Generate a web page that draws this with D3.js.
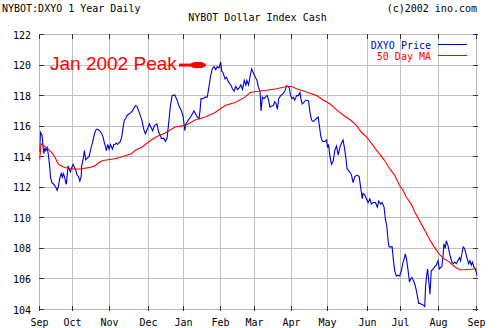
<!DOCTYPE html>
<html><head><meta charset="utf-8">
<script src="https://cdn.jsdelivr.net/npm/d3@7"></script>
<style>html,body{margin:0;padding:0;background:#fff;overflow:hidden}</style>
</head><body><svg id="c" width="501" height="328"></svg>
<script>
// ---- data ----
const monthLabels = ["Sep","Oct","Nov","Dec","Jan","Feb","Mar","Apr","May","Jun","Jul","Aug","Sep"];
const monthTicks = [0, 19.6, 41.6, 64.8, 85.7, 107.7, 127.9, 149.9, 171.3, 195.1, 214.8, 237.4, 260];
const yTicks = [104,106,108,110,112,114,116,118,120,122];
const price = [
[0,114.3],[0.6,115.6],[1.5,115.4],[2.2,114.6],[2.6,114.2],[3.2,114.6],[3.8,114.4],[4.6,114.6],[5.3,114.1],
[6.1,113.3],[6.5,112.7],[7.3,112.3],[8.5,112.2],[9.7,112.0],[10.5,111.8],[11.3,112.1],[12.1,112.6],[12.9,112.9],
[13.7,112.6],[14.1,112.9],[14.9,112.7],[15.6,112.3],[16,112.2],[16.4,112.7],[17,113.4],[17.6,113.2],[18.4,113.0],
[19.2,113.3],[20,113.5],[20.8,113.3],[21.6,113.1],[22.4,112.8],[23.2,112.7],[24,112.4],[24.8,112.7],[25.1,113.4],
[25.9,113.8],[26.7,114.4],[27.5,113.8],[28.3,113.9],[29.5,114.0],[30.7,114.6],[31.5,114.9],[32.3,115.3],[33,115.6],
[33.8,115.8],[34.7,115.8],[35.8,115.7],[37,115.5],[37.8,115.3],[38.6,114.9],[39.4,114.6],[39.8,114.4],[40.6,114.8],
[41.4,114.5],[42.2,114.8],[43.4,114.5],[44.2,114.8],[44.9,114.8],[45.7,114.9],[46.5,114.8],[47.3,114.9],[48.1,115.0],
[48.9,115.3],[49.7,115.9],[50.5,116.4],[51.3,116.5],[52.1,116.7],[53.3,116.8],[54.5,116.9],[55.3,117.0],[56.3,117.2],
[57.2,117.35],[58,117.3],[59.3,116.9],[60.9,116.4],[62,115.8],[63,115.5],[64.5,115.9],[65.3,116.15],[66.5,115.9],
[67.3,115.7],[68.5,116.05],[69.9,116.15],[70.9,115.6],[71.9,115.4],[72.5,115.2],[73.9,115.2],[74.9,115.0],[75.9,115.2],
[76.9,116.25],[77.9,117.35],[78.9,118.0],[80.5,118.05],[81.9,117.7],[82.9,117.35],[84.5,117.0],[85.5,116.6],[86.5,115.7],
[86.9,116.1],[88.5,116.4],[89.9,116.6],[90.9,116.8],[91.9,117.0],[92.9,116.8],[93.9,116.6],[94.9,116.5],[95.5,117.0],
[96.1,117.8],[97.3,117.8],[98.5,117.9],[99.8,117.9],[100.8,118.55],[101.8,119.3],[102.8,119.75],[103.8,119.9],
[104.8,119.7],[105.8,119.9],[106.8,119.8],[107.8,120.2],[108.4,119.6],[109.2,119.5],[110.4,119.1],[111.2,119.2],
[112.4,118.9],[113.8,118.7],[114.8,118.45],[115.8,118.3],[116.8,118.6],[117.8,118.4],[118.8,118.5],[119.8,118.7],
[120.8,118.4],[121.8,119.0],[122.8,118.7],[123.4,119.0],[124.4,118.7],[125.2,119.2],[126.2,119.75],[127.2,119.5],
[128.4,119.2],[129.4,119.0],[130.2,118.55],[131.2,118.3],[131.8,117.0],[132.6,117.9],[133.6,117.8],[134.8,117.95],
[135.5,118.0],[136.3,117.7],[137.1,117.25],[137.9,117.3],[139.1,117.35],[139.9,117.6],[140.7,117.5],[141.5,117.1],
[142.3,117.8],[143.5,118.0],[144.6,118.1],[146,118.3],[147,118.65],[148,118.6],[148.6,118.5],[149.4,118.0],
[150.2,117.8],[151,117.9],[151.8,117.7],[153,118.0],[154,118.0],[155,118.2],[155.5,117.8],[156.3,117.45],
[157.3,117.55],[158.3,117.7],[159.3,117.7],[160.1,117.65],[160.9,116.9],[161.9,116.4],[162.8,116.3],[163.8,116.4],
[164.8,116.5],[165.8,116.6],[166.8,115.8],[167.4,115.3],[168.4,115.0],[169.8,115.0],[170.8,115.1],[171.4,114.6],
[172,114.8],[172.7,114.1],[173.7,113.5],[174.7,113.7],[175.7,114.4],[176.7,114.7],[177.7,114.1],[178.7,114.6],
[179.7,114.9],[180.6,115.1],[181.4,114.6],[182.2,114.0],[183,113.2],[183.8,113.1],[184.6,113.0],[185.6,112.8],
[186.6,112.3],[187.6,112.7],[189,112.8],[190.2,112.7],[191.2,111.9],[192,111.25],[192.5,111.6],[193.5,111.5],
[194.5,111.25],[195.5,111.0],[196.5,111.25],[197.5,110.9],[198.5,111.0],[199.9,111.0],[201,110.7],[201.8,111.1],
[203,110.9],[203.8,111.0],[205,110.7],[205.8,109.9],[206.6,109.5],[207.4,108.5],[208,108.1],[209,108.1],[209.8,108.1],
[210.6,107.2],[211.3,106.55],[212.3,106.2],[213.3,106.25],[214.3,106.2],[215.3,106.55],[216.1,107.0],[216.9,107.3],
[217.7,107.65],[218.5,107.2],[219.3,106.55],[220.1,105.8],[220.8,106.0],[221.6,106.1],[222.4,105.9],[223.2,105.7],
[224,105.35],[224.8,104.9],[225.6,104.4],[226.4,104.4],[227.2,104.35],[228.2,104.3],[229.2,104.2],[229.7,105.5],
[230.3,106.2],[230.9,106.65],[231.5,106.0],[232.3,105.0],[233.1,106.55],[233.9,106.6],[235.1,106.8],[236.1,106.9],
[237.1,107.2],[237.9,106.65],[238.7,106.75],[239.4,106.8],[240.2,107.65],[240.6,108.3],[241.4,108.0],[242,108.5],
[243,108.2],[243.8,107.75],[244.6,107.4],[245.4,107.1],[246.2,107.0],[247,107.1],[248,107.0],[248.9,107.2],
[249.9,107.4],[250.5,107.2],[251.3,107.65],[252.1,108.1],[252.9,108.0],[253.7,107.65],[254.5,107.3],[255.3,107.0],
[256.1,107.2],[256.9,106.9],[257.6,107.1],[258.4,106.8],[259.2,106.7],[259.8,106.45],[260.4,106.2]
];
const ma50 = [
[0,113.75],[1,114.85],[4.2,114.6],[7.1,114.3],[9.1,114.0],[10.5,113.65],[11.3,113.5],[13.1,113.4],[15,113.3],
[20,113.2],[24,113.2],[27,113.25],[30,113.3],[32.9,113.4],[35.8,113.65],[37.8,113.75],[43.8,113.85],[47.7,113.95],
[54.6,114.2],[57.6,114.45],[60.6,114.6],[63.6,114.85],[66.5,115.1],[69.5,115.3],[74.8,115.55],[80.7,115.95],
[86.7,116.05],[92.6,116.4],[98.5,116.6],[104.5,116.9],[110.4,117.35],[116.3,117.55],[122.3,117.9],[125.3,118.2],
[128.2,118.25],[131.2,118.3],[135,118.35],[141,118.45],[147,118.6],[150,118.6],[153,118.45],[157,118.3],[161,118.15],
[165,118.0],[169,117.7],[173,117.45],[177,117.05],[181,116.7],[185,116.4],[188.6,116.05],[191.5,115.6],[194.5,115.3],
[196,115.1],[200,114.5],[205.4,113.75],[208.4,113.2],[211.3,112.8],[214.3,112.1],[216.3,111.8],[218.3,111.35],
[221.2,110.9],[223.2,110.4],[226.2,109.8],[229.1,109.2],[232.1,108.6],[235.1,108.05],[238,107.6],[241,107.3],
[244,107.1],[247,106.8],[250,106.6],[254,106.6],[258,106.65],[260.4,106.65]
];
const seriesNames = ["DXYO Price","50 Day MA"];
const titleLeft = "NYBOT:DXYO 1 Year Daily";
const titleRight = "(c)2002 ino.com";
const subtitle = "NYBOT Dollar Index Cash";
const noteText = "Jan 2002 Peak";
const noteArrow = {from: 83, to: 99, value: 120.0};

// ---- drawing ----
const svg = d3.select("#c");
const mono = "'DejaVu Sans Mono', monospace";
const x = d3.scaleLinear().domain([0,260]).range([39.5,476.5]);
const y = d3.scaleLinear().domain([104,122]).range([309.5,34.5]);
const crisp = v => Math.round(v-0.5)+0.5;
const L = x.range()[0], R = x.range()[1], T = y.range()[1], B = y.range()[0];
const gridC = "#c0c0c0", tickC = "#333";

svg.append("rect").attr("width",501).attr("height",328).attr("fill","#fff");

const g = svg.append("g").attr("shape-rendering","crispEdges");
// grid
g.selectAll(".hg").data(yTicks).join("line")
  .attr("x1",L).attr("x2",R).attr("y1",d=>crisp(y(d))).attr("y2",d=>crisp(y(d)))
  .attr("stroke",gridC);
g.selectAll(".vg").data(monthTicks).join("line")
  .attr("y1",T).attr("y2",B).attr("x1",d=>crisp(x(d))).attr("x2",d=>crisp(x(d)))
  .attr("stroke",gridC);
// border
g.append("rect").attr("x",L).attr("y",T).attr("width",R-L).attr("height",B-T)
  .attr("fill","none").attr("stroke","#b8b8b8");
// inward ticks
yTicks.forEach(v=>{
  const yy = crisp(y(v));
  g.append("line").attr("x1",L-1).attr("x2",L+4).attr("y1",yy).attr("y2",yy).attr("stroke",tickC);
  g.append("line").attr("x1",R-4).attr("x2",R+1).attr("y1",yy).attr("y2",yy).attr("stroke",tickC);
});
monthTicks.forEach(v=>{
  const xx = crisp(x(v));
  g.append("line").attr("x1",xx).attr("x2",xx).attr("y1",B-4).attr("y2",B+1).attr("stroke",tickC);
  g.append("line").attr("x1",xx).attr("x2",xx).attr("y1",T-1).attr("y2",T+4).attr("stroke",tickC);
});

// axis labels
svg.selectAll(".yl").data(yTicks).join("text")
  .attr("x",31).attr("y",d=>y(d)+4).attr("text-anchor","end")
  .attr("font-family",mono).attr("font-size",10).attr("fill","#000").text(d=>d);
svg.selectAll(".xl").data(monthTicks).join("text")
  .attr("x",d=>x(d)).attr("y",326).attr("text-anchor","middle")
  .attr("font-family",mono).attr("font-size",10).attr("fill","#000")
  .text((d,i)=>monthLabels[i]);

// titles
svg.append("text").attr("x",2).attr("y",12).attr("font-family",mono).attr("font-size",10).text(titleLeft);
svg.append("text").attr("x",477).attr("y",12).attr("text-anchor","end").attr("font-family",mono).attr("font-size",10).text(titleRight);
svg.append("text").attr("x",257.5).attr("y",21).attr("text-anchor","middle").attr("font-family",mono).attr("font-size",10).text(subtitle);

// lines
svg.append("clipPath").attr("id","clip").append("rect")
  .attr("x",L).attr("y",T-1).attr("width",R-L+1).attr("height",B-T+2);
const line = d3.line().x(d=>x(d[0])).y(d=>y(d[1]));
svg.append("path").datum(price).attr("d",line).attr("fill","none")
  .attr("stroke","#0000cc").attr("stroke-width",1.1).attr("clip-path","url(#clip)");
svg.append("path").datum(ma50).attr("d",line).attr("fill","none")
  .attr("stroke","#ff0000").attr("stroke-width",1.1).attr("clip-path","url(#clip)");

// legend
const colors = ["#0000cc","#ff0000"];
seriesNames.forEach((n,i)=>{
  svg.append("text").attr("x",431).attr("y",49+i*11).attr("text-anchor","end")
    .attr("font-family",mono).attr("font-size",10).attr("fill",colors[i]).text(n);
  svg.append("line").attr("x1",438).attr("x2",467).attr("y1",44.5+i*11).attr("y2",44.5+i*11)
    .attr("stroke",colors[i]).attr("shape-rendering","crispEdges");
});

// annotation
svg.append("text").attr("x",50).attr("y",70)
  .attr("font-family","'Liberation Sans', Arial, sans-serif").attr("font-size",19)
  .attr("fill","#ff0000").text(noteText);
const ax0 = x(noteArrow.from), ax1 = x(noteArrow.to), ay = y(noteArrow.value);
svg.append("line").attr("x1",ax0).attr("x2",ax1-12).attr("y1",ay).attr("y2",ay)
  .attr("stroke","#ff0000").attr("stroke-width",3);
svg.append("path").attr("fill","#ff0000")
  .attr("d",`M${ax1-15},${ay-1.5} L${ax1-12},${ay-3} L${ax1-4},${ay-3} L${ax1},${ay-1} L${ax1},${ay+1} L${ax1-4},${ay+3} L${ax1-12},${ay+3} L${ax1-15},${ay+1.5} Z`);
</script>
</body></html>
